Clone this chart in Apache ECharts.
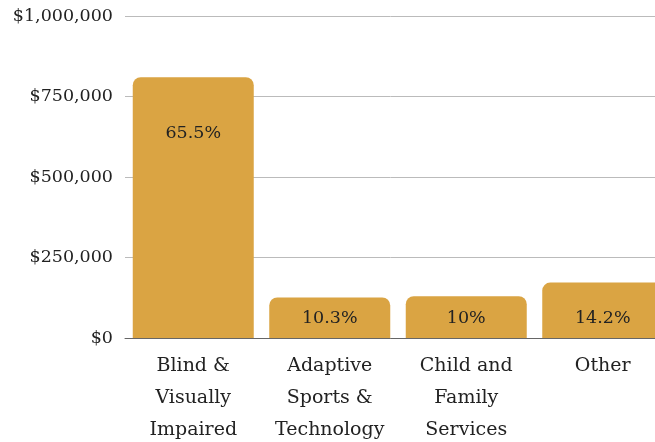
<!DOCTYPE html>
<html>
<head>
<meta charset="utf-8">
<script src="https://cdn.jsdelivr.net/npm/echarts@6/dist/echarts.min.js"></script>
<style>
  html, body { margin: 0; padding: 0; background: #fff; }
  #chart { width: 655px; height: 442px; }
</style>
</head>
<body>
<div id="chart"></div>
<script>
  // categories and values
  var categories = ['Blind &\nVisually\nImpaired', 'Adaptive\nSports &\nTechnology', 'Child and\nFamily\nServices', 'Other']
  var amounts = [810000, 126000, 130000, 172000]
  var shares = ['65.5%', '10.3%', '10%', '14.2%']
  var yTicks = [0, 250000, 500000, 750000, 1000000]

  var chart = echarts.init(document.getElementById('chart'))
  var font = 'DejaVu Serif'

  var barData = amounts.map(function (v, i) {
    // tall bar keeps its label near the top, short ones sit near the base
    var tall = i === 0
    return {
      value: v,
      label: {
        position: tall ? 'insideTop' : 'insideBottom',
        distance: tall ? 47 : 11,
        formatter: shares[i]
      }
    }
  })

  chart.setOption({
    animation: false,
    grid: { left: 125, right: -16, top: 16, bottom: 104, outerBoundsMode: 'none', containLabel: false },
    xAxis: {
      type: 'category',
      data: categories,
      axisTick: { show: false },
      axisLine: { lineStyle: { color: '#666', width: 1 } },
      axisLabel: {
        interval: 0,
        margin: 12,
        color: '#222',
        fontFamily: font,
        fontSize: 19,
        lineHeight: 32
      }
    },
    yAxis: {
      type: 'value',
      min: yTicks[0],
      max: yTicks[yTicks.length - 1],
      interval: yTicks[1] - yTicks[0],
      axisLine: { show: false },
      axisTick: { show: false },
      splitLine: { lineStyle: { color: '#bbb', width: 1 } },
      axisLabel: {
        margin: 12,
        color: '#222',
        fontFamily: font,
        fontSize: 17.5,
        formatter: function (v) { return '$' + v.toLocaleString('en-US') }
      }
    },
    series: [{
      type: 'bar',
      data: barData,
      barWidth: 121,
      itemStyle: { color: '#DAA443', borderRadius: [8, 8, 0, 0] },
      label: {
        show: true,
        color: '#222',
        fontFamily: font,
        fontSize: 17.5
      }
    }]
  })
</script>
</body>
</html>
